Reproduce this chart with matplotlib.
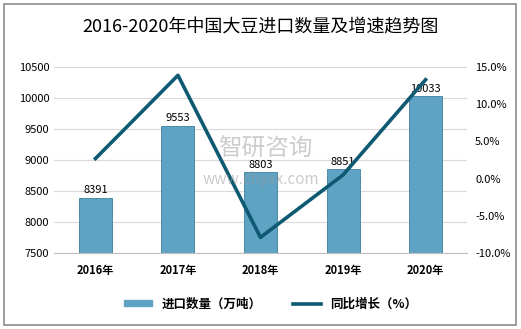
import matplotlib.pyplot as plt
from matplotlib.patches import Rectangle

plt.rcParams['font.family'] = ['Noto Sans CJK SC', 'DejaVu Sans']

# data
years = ["2016年", "2017年", "2018年", "2019年", "2020年"]
imports = [8391, 9553, 8803, 8851, 10033]
growth = [2.7, 13.9, -7.9, 0.5, 13.3]

fig = plt.figure(figsize=(5.21, 3.29), dpi=100)
fig.patches.append(Rectangle((0.008, 0.012), 0.982, 0.976, transform=fig.transFigure,
                             fill=False, edgecolor="#8c8c8c", linewidth=1.2))

ax = fig.add_axes([0.104, 0.231, 0.792, 0.565])
x = range(len(years))

# bars
ax.bar(x, imports, width=0.4, color="#5fa3c4", edgecolor="#3f7f9f", linewidth=0.6, zorder=2)
for i, v in enumerate(imports):
    ax.text(i, v + 40, str(v), ha="center", va="bottom", fontsize=8, zorder=5)

ax.set_ylim(7500, 10500)
ax.set_yticks(range(7500, 10501, 500))
ax.set_xlim(-0.5, len(years) - 0.5)
ax.set_xticks(list(x))
ax.set_xticklabels(years, fontweight="bold", fontsize=8)
ax.tick_params(axis="y", labelsize=8, length=0)
ax.tick_params(axis="x", length=0, pad=8)
ax.grid(axis="y", color="#d9d9d9", linewidth=0.8, zorder=0)
for s in ["top", "right", "left"]:
    ax.spines[s].set_visible(False)
ax.spines["bottom"].set_color("#bfbfbf")

# growth line
ax2 = ax.twinx()
ax2.plot(list(x), growth, color="#0e5a73", linewidth=2.6, zorder=4)
ax2.set_ylim(-10, 15)
ax2.set_yticks(range(-10, 16, 5))
ax2.set_yticklabels([f"{t:.1f}%" for t in range(-10, 16, 5)])
ax2.tick_params(axis="y", labelsize=8, length=0, pad=6)
for s in ["top", "right", "left", "bottom"]:
    ax2.spines[s].set_visible(False)

# watermark
fig.text(0.51, 0.545, "智研咨询", fontsize=17, color="#9a9a9a", alpha=0.5, ha="center", va="center")
fig.text(0.50, 0.455, "www.chyxx.com", fontsize=11, color="#9a9a9a", alpha=0.5, ha="center", va="center")

fig.text(0.5, 0.918, "2016-2020年中国大豆进口数量及增速趋势图", fontsize=13, ha="center", va="center")

# legend
handles = [plt.Rectangle((0, 0), 1, 1, color="#5fa3c4"),
           plt.Line2D([0], [0], color="#0e5a73", linewidth=2.6)]
fig.legend(handles, ["进口数量（万吨）", "同比增长（%）"], loc="center", bbox_to_anchor=(0.52, 0.075),
           ncol=2, frameon=False, prop={"weight": "bold", "size": 9}, handlelength=2.2,
           handleheight=0.35, columnspacing=2.5)

fig.savefig("out.png", dpi=100)
